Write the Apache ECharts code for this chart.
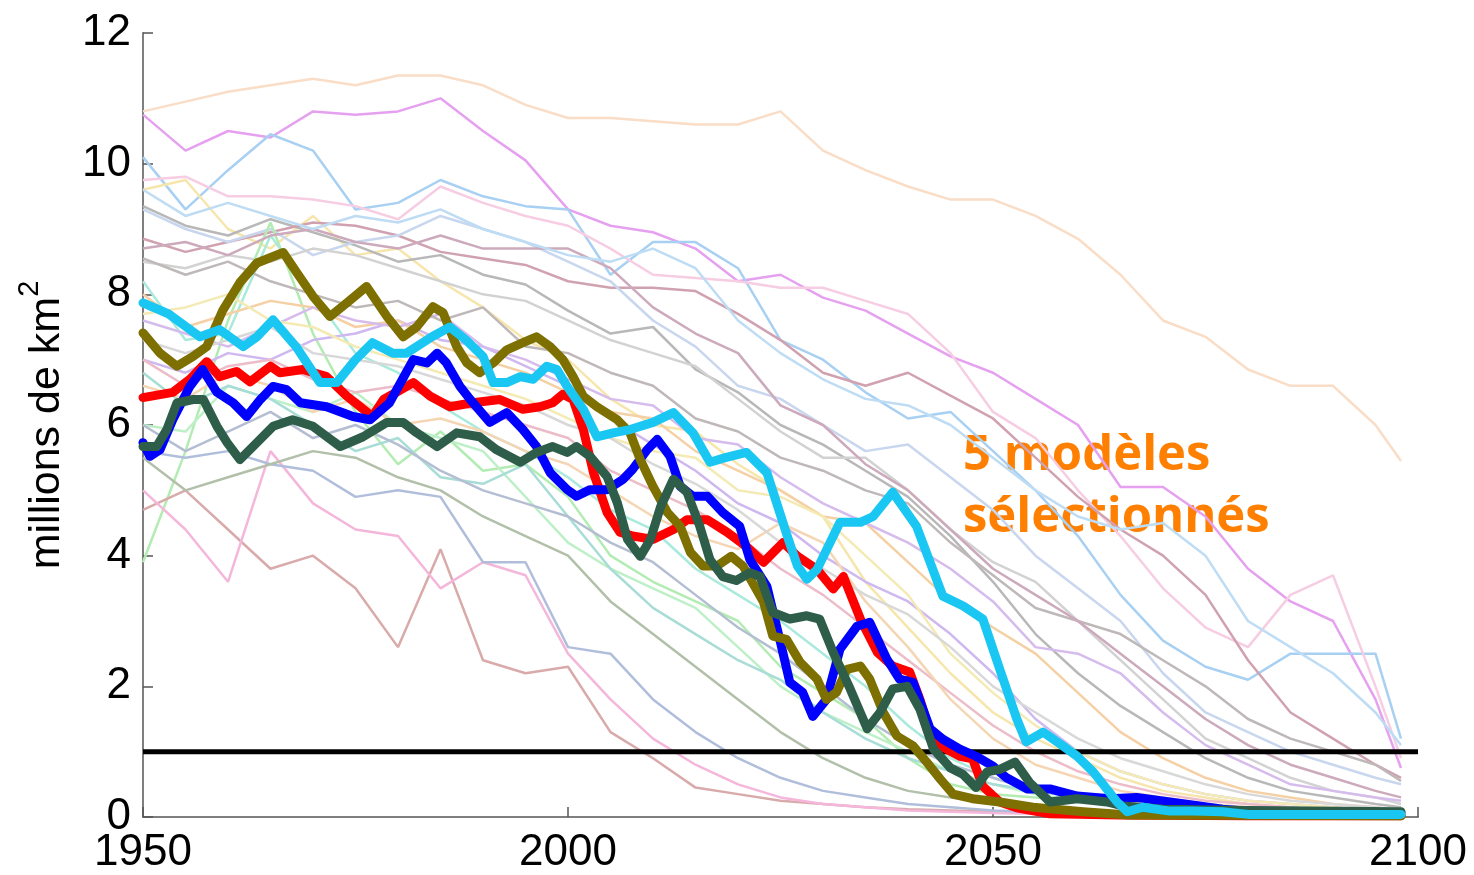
<!DOCTYPE html>
<html><head><meta charset="utf-8">
<script src="https://cdn.jsdelivr.net/npm/echarts@6/dist/echarts.min.js"></script>
<style>html,body{margin:0;padding:0;background:#fff}#c{width:1474px;height:875px}</style>
</head><body><div id="c"></div>
<script>
// ---- axis setup values ----
const X_MIN = 1950, X_MAX = 2100, X_STEP = 50;
const Y_MIN = 0, Y_MAX = 12, Y_STEP = 2;
const Y_NAME = 'millions de km';
const ANNOTATION = ['5 modèles', 'sélectionnés'];
const THRESHOLD = 1;

// ---- faint model runs: sampled every 5 years ----
const FAINT_YEARS = [1950,1955,1960,1965,1970,1975,1980,1985,1990,1995,2000,2005,2010,2015,2020,2025,2030,2035,2040,2045,2050,2055,2060,2065,2070,2075,2080,2085,2090,2095,2098];
const faintPeach    = [10.8,10.95,11.1,11.2,11.3,11.2,11.35,11.35,11.2,10.9,10.7,10.7,10.65,10.6,10.6,10.8,10.2,9.9,9.65,9.45,9.45,9.2,8.85,8.3,7.6,7.35,6.85,6.6,6.6,6.0,5.45];
const faintMagenta  = [10.75,10.2,10.5,10.4,10.8,10.75,10.8,11.0,10.5,10.05,9.3,9.05,8.95,8.7,8.2,8.3,7.95,7.75,7.4,7.05,6.8,6.4,6.0,5.05,5.05,4.6,3.8,3.3,3.0,1.8,0.75];
const faintBlueA    = [10.1,9.3,9.9,10.45,10.2,9.3,9.4,9.75,9.5,9.35,9.3,8.3,8.8,8.8,8.4,7.3,7.0,6.5,6.1,6.2,5.6,5.0,4.3,3.4,2.7,2.3,2.1,2.5,2.5,2.5,1.2];
const faintYellowA  = [9.6,9.75,9.0,8.7,9.2,8.6,8.7,8.2,7.8,7.3,7.0,6.4,6.0,5.9,5.4,5.0,4.6,3.6,2.9,2.2,1.6,1.2,0.9,0.6,0.4,0.3,0.2,0.15,0.1,0.1,0.1];
const faintPinkA    = [9.75,9.8,9.5,9.5,9.45,9.35,9.15,9.65,9.4,9.2,9.05,8.7,8.3,8.25,8.2,8.1,8.1,7.9,7.7,7.1,6.2,5.8,5.0,4.3,3.5,2.9,2.6,3.4,3.7,2.0,0.9];
const faintGrayA    = [9.35,9.05,8.9,9.15,8.95,8.75,8.5,8.6,8.3,8.15,7.75,7.4,7.5,6.85,6.5,6.0,5.7,5.3,4.9,4.3,3.6,2.8,2.2,1.7,1.3,0.9,0.6,0.4,0.3,0.2,0.15];
const faintMauveA   = [8.85,8.65,8.8,8.95,9.1,9.05,8.9,8.65,8.55,8.45,8.2,8.1,8.1,8.05,7.7,7.3,6.8,6.6,6.8,6.45,6.1,5.5,4.9,4.4,4.0,3.4,2.4,1.6,1.2,0.8,0.6];
const faintSteelA   = [9.3,9.0,8.8,9.0,8.6,8.8,8.9,9.2,9.0,8.8,8.5,8.2,7.6,7.2,6.6,6.4,6.0,5.6,5.7,5.2,4.7,4.0,3.5,3.0,2.2,1.6,1.3,1.0,0.8,0.6,0.5];
const faintGrayB    = [8.5,8.4,8.6,8.5,8.7,8.6,8.4,8.2,8.0,7.9,7.6,7.3,7.1,6.9,6.4,5.9,5.5,5.5,5.0,4.4,3.9,3.6,3.0,2.4,1.8,1.2,0.9,0.6,0.4,0.3,0.2];
const faintGreenA   = [3.9,5.6,7.6,9.1,7.4,6.2,5.4,5.9,5.3,5.4,4.9,4.0,3.6,3.3,3.0,2.3,1.9,1.5,0.9,0.5,0.35,0.3,0.25,0.2,0.15,0.1,0.1,0.08,0.08,0.06,0.05];
const faintAqua     = [8.2,7.3,7.4,8.9,8.0,7.1,6.8,6.3,5.9,5.6,5.2,4.7,4.4,3.8,3.4,3.0,2.5,2.0,1.4,0.9,0.6,0.4,0.3,0.2,0.15,0.1,0.1,0.1,0.08,0.06,0.05];
const faintLavender = [7.0,6.8,7.1,7.0,7.3,7.4,7.6,7.3,7.2,6.9,6.6,6.1,5.7,5.3,4.8,4.5,4.0,3.6,3.3,2.8,2.2,1.5,1.0,0.7,0.5,0.35,0.25,0.2,0.15,0.1,0.1];
const faintOrange   = [8.0,7.5,7.7,7.9,7.8,7.5,7.6,7.2,7.0,6.8,6.5,6.2,6.1,5.6,5.3,5.0,4.6,4.5,3.9,3.3,2.9,2.5,1.9,1.3,0.9,0.6,0.4,0.3,0.2,0.15,0.1];
const faintRose     = [4.7,5.0,4.4,3.8,4.0,3.5,2.6,4.1,2.4,2.2,2.3,1.3,0.9,0.45,0.35,0.25,0.2,0.15,0.12,0.1,0.08,0.06,0.05,0.05,0.04,0.04,0.04,0.03,0.03,0.03,0.03];
const faintPinkB    = [5.0,4.4,3.6,5.6,4.8,4.4,4.3,3.5,3.9,3.7,2.5,1.8,1.2,0.8,0.5,0.3,0.2,0.15,0.1,0.08,0.06,0.05,0.05,0.04,0.04,0.03,0.03,0.03,0.03,0.03,0.03];
const faintSteelB   = [5.6,5.5,5.6,5.4,5.3,4.9,5.0,4.9,3.9,3.9,2.6,2.5,1.8,1.3,0.9,0.6,0.4,0.3,0.2,0.15,0.1,0.08,0.06,0.05,0.05,0.04,0.04,0.04,0.04,0.04,0.04];
const faintGrayGreen= [5.5,5.0,5.2,5.4,5.6,5.5,5.2,5.0,4.6,4.3,4.0,3.3,2.8,2.3,1.8,1.3,0.9,0.6,0.4,0.3,0.2,0.15,0.1,0.08,0.06,0.05,0.05,0.05,0.05,0.05,0.05];
const faintGreenB   = [6.0,5.9,6.6,6.4,6.2,6.5,6.0,5.8,5.6,4.9,4.2,3.8,3.5,3.2,2.6,2.0,1.6,1.3,1.0,0.7,0.5,0.35,0.25,0.2,0.15,0.1,0.1,0.08,0.06,0.05,0.05];
const faintTeal     = [6.8,6.3,6.6,6.4,6.0,5.6,5.8,5.2,5.1,5.4,4.6,3.8,3.2,2.8,2.4,2.1,1.6,1.2,0.9,0.7,0.5,0.4,0.3,0.25,0.2,0.15,0.1,0.1,0.08,0.06,0.05];
const faintPinkRose = [7.0,6.6,6.9,7.0,6.7,6.5,6.6,6.4,6.2,6.0,5.8,5.3,5.0,4.7,4.3,3.8,3.4,2.9,2.4,1.9,1.4,1.0,0.7,0.5,0.35,0.25,0.2,0.15,0.1,0.1,0.1];
const faintPurple   = [7.6,7.4,7.2,7.5,7.8,7.6,7.5,7.7,7.2,7.0,6.7,6.4,6.3,5.8,5.7,5.2,4.8,4.5,4.2,3.8,3.3,2.6,2.5,2.2,1.6,1.1,0.8,0.5,0.4,0.3,0.25];
const faintGrayC    = [8.55,8.3,8.5,8.2,8.0,7.8,7.9,7.6,7.8,7.2,7.1,6.8,6.6,6.1,5.9,5.5,5.3,5.0,4.8,4.2,3.7,3.2,3.0,2.8,2.4,2.0,1.5,1.2,1.0,0.8,0.55];
const faintMauveB   = [8.7,8.8,8.6,8.9,9.0,8.8,8.7,8.9,8.7,8.7,8.7,8.4,7.8,7.4,7.1,6.3,6.0,5.4,5.0,4.4,3.8,3.4,3.0,2.5,2.0,1.5,1.1,0.8,0.6,0.4,0.3];
const faintBlueB    = [9.6,9.2,9.4,9.2,9.0,9.2,9.1,9.3,9.0,8.8,8.6,8.5,8.7,8.4,7.6,7.1,6.7,6.4,6.3,6.0,5.5,5.0,4.6,4.4,4.5,4.0,3.0,2.6,2.2,1.6,1.1];
const faintYellowB  = [7.7,7.8,8.0,7.6,7.5,7.2,7.0,6.8,6.6,6.4,6.1,5.8,5.6,5.5,5.0,4.9,4.6,4.0,3.4,2.5,1.9,1.4,1.0,0.7,0.5,0.35,0.25,0.2,0.15,0.1,0.1];
const faintApricot  = [6.6,6.4,6.8,6.6,6.2,6.4,6.0,6.1,5.9,5.6,5.4,5.0,4.6,4.3,4.1,4.5,4.2,3.3,2.6,1.8,1.2,0.8,0.6,0.4,0.3,0.2,0.15,0.1,0.1,0.1,0.1];
const faintSlate    = [6.0,5.6,5.9,6.2,5.8,6.0,5.7,5.3,5.0,4.8,4.6,4.2,3.9,3.4,2.9,2.5,2.0,1.5,1.1,0.8,0.6,0.4,0.3,0.25,0.2,0.15,0.1,0.1,0.08,0.08,0.06];
const faintGrayD    = [7.3,7.1,7.3,7.5,7.1,7.0,6.9,6.7,6.5,6.3,6.0,5.8,5.4,5.1,4.7,4.2,3.8,3.4,3.1,2.6,2.0,1.6,1.2,0.9,0.7,0.5,0.35,0.25,0.2,0.15,0.1];

// ---- five selected models: [year, value] ----
const redModel = [[1950,6.42],[1953.5,6.5],[1955.5,6.7],[1957.5,6.97],[1959,6.74],[1961,6.82],[1962.6,6.66],[1965,6.9],[1966.1,6.8],[1968.8,6.85],[1971.6,6.74],[1974,6.44],[1977,6.13],[1978.3,6.39],[1981.8,6.65],[1983.8,6.44],[1986.1,6.28],[1988.8,6.34],[1992,6.39],[1994.7,6.24],[1996.7,6.28],[1998.2,6.34],[1999.4,6.47],[2000.6,6.39],[2001.8,5.93],[2003,5.27],[2004.6,4.66],[2006.1,4.36],[2007.6,4.3],[2010,4.25],[2012.4,4.4],[2014,4.55],[2016.4,4.55],[2018.7,4.36],[2021,4.14],[2023,3.9],[2025.3,4.2],[2027,3.99],[2029.3,3.79],[2031.2,3.49],[2032.4,3.68],[2034.4,3.03],[2036.4,2.52],[2038.2,2.31],[2040.2,2.22],[2041.4,1.8],[2042.6,1.3],[2043.8,1.09],[2046.1,0.93],[2047.6,0.89],[2048.8,0.47],[2050.8,0.23],[2052.8,0.14],[2056.7,0.05],[2065,0.03],[2080,0.02],[2098,0.02]];
const blueModel = [[1950,5.73],[1950.8,5.52],[1952,5.62],[1953.5,6.08],[1955.5,6.59],[1957,6.85],[1958.7,6.5],[1960.6,6.34],[1962.2,6.13],[1963.8,6.39],[1965.3,6.59],[1966.9,6.54],[1968.5,6.34],[1971.6,6.28],[1974.7,6.13],[1976.7,6.08],[1979,6.34],[1981.8,7.0],[1983.4,6.95],[1984.6,7.1],[1985.7,6.95],[1987.3,6.59],[1988.5,6.39],[1990.8,6.04],[1992.8,6.19],[1994.7,5.93],[1996.3,5.67],[1997.9,5.27],[1999.9,5.01],[2001,4.91],[2002.6,5.01],[2004.6,5.01],[2006.5,5.17],[2007.6,5.32],[2009.3,5.62],[2010.5,5.78],[2012,5.52],[2013.2,5.06],[2014.7,4.91],[2016.4,4.91],[2018.2,4.66],[2020.2,4.45],[2021.4,3.94],[2023.4,3.53],[2025,2.67],[2026.1,2.06],[2027.6,1.91],[2028.8,1.54],[2030.4,1.8],[2032,2.57],[2034,2.92],[2035.5,2.98],[2037.5,2.42],[2039,2.11],[2040.6,2.06],[2042.6,1.35],[2044.1,1.19],[2046.1,1.04],[2048,0.93],[2050,0.78],[2051.6,0.6],[2054,0.43],[2056.7,0.43],[2059.9,0.32],[2063.8,0.28],[2066.9,0.3],[2070.8,0.23],[2074.3,0.17],[2077,0.12],[2080,0.09],[2090,0.07],[2098,0.06]];
const oliveModel = [[1950,7.41],[1952,7.1],[1954,6.9],[1955.9,7.05],[1957.5,7.2],[1959.4,7.76],[1961.4,8.18],[1963.4,8.48],[1966.5,8.64],[1968.1,8.33],[1970,7.97],[1972,7.66],[1974,7.87],[1976.3,8.12],[1978.7,7.66],[1980.6,7.35],[1982.2,7.5],[1984.1,7.81],[1985.3,7.72],[1986.9,7.2],[1988.1,6.95],[1989.6,6.8],[1991.2,6.95],[1992.8,7.15],[1994.7,7.26],[1996.3,7.35],[1997.9,7.2],[1999.4,7.0],[2000.6,6.74],[2001.8,6.44],[2003.4,6.28],[2005.8,6.08],[2007.3,5.88],[2008.5,5.47],[2010,5.06],[2011.7,4.66],[2013.2,4.45],[2014.4,4.05],[2015.9,3.84],[2017.5,3.84],[2019.2,3.99],[2020.6,3.84],[2023,3.29],[2024.1,2.77],[2025.7,2.72],[2027.3,2.37],[2029.3,2.11],[2030.4,1.8],[2031.6,1.91],[2032.8,2.26],[2034.4,2.31],[2035.5,2.11],[2037.1,1.6],[2038.7,1.24],[2040.6,1.09],[2042.2,0.84],[2043.8,0.58],[2045.3,0.35],[2047.6,0.28],[2050.8,0.23],[2054.7,0.15],[2060.6,0.08],[2066,0.03],[2098,0.02]];
const greenModel = [[1950,5.67],[1951.6,5.67],[1952.8,5.93],[1954,6.34],[1955.9,6.39],[1957.1,6.39],[1958.7,5.98],[1959.9,5.73],[1961.4,5.47],[1963.4,5.73],[1965.3,5.98],[1967.6,6.08],[1970,5.98],[1973.2,5.67],[1975.9,5.82],[1978.7,6.04],[1980.6,6.04],[1982.2,5.88],[1984.6,5.67],[1986.9,5.88],[1989.6,5.82],[1991.6,5.62],[1994.4,5.43],[1996.3,5.58],[1998.2,5.67],[1999.9,5.58],[2001,5.67],[2002.6,5.52],[2004.6,5.21],[2005.8,4.81],[2007,4.25],[2008.5,3.99],[2009.7,4.25],[2010.9,4.75],[2012.4,5.17],[2014,4.97],[2015.5,4.45],[2016.7,3.94],[2018.2,3.68],[2019.8,3.62],[2021.4,3.74],[2022.6,3.68],[2024.1,3.13],[2026.1,3.03],[2028.1,3.08],[2029.6,3.03],[2031.2,2.52],[2033.2,1.96],[2035.2,1.35],[2036.7,1.6],[2038.2,1.96],[2039.9,2.0],[2041.4,1.65],[2043,1.04],[2045,0.75],[2046.5,0.65],[2048,0.45],[2049.3,0.69],[2050.8,0.73],[2052.6,0.84],[2054.3,0.53],[2056.7,0.23],[2059.9,0.28],[2063.4,0.23],[2065.3,0.17],[2070,0.12],[2080,0.1],[2098,0.08]];
const cyanModel = [[1950,7.87],[1953,7.7],[1956.7,7.35],[1959,7.46],[1961.8,7.2],[1963.4,7.35],[1965.3,7.61],[1968,7.2],[1970.8,6.65],[1972.8,6.65],[1975,7.0],[1977,7.26],[1979.4,7.1],[1981,7.1],[1984,7.35],[1986.1,7.5],[1988,7.3],[1990,7.05],[1991.2,6.65],[1992.8,6.65],[1994.4,6.74],[1995.9,6.7],[1997.5,6.9],[1998.7,6.85],[1999.9,6.59],[2001.8,6.24],[2003.4,5.82],[2005.3,5.88],[2007.3,5.93],[2010,6.04],[2012.4,6.19],[2014.7,5.88],[2016.7,5.43],[2018.5,5.5],[2021,5.58],[2023.4,5.27],[2025.8,4.3],[2027,3.84],[2028.1,3.64],[2029.3,3.79],[2032,4.51],[2034.4,4.51],[2035.9,4.6],[2038.2,4.97],[2041,4.45],[2044.1,3.38],[2046.5,3.23],[2048.8,3.03],[2050.8,2.26],[2052.8,1.5],[2053.9,1.15],[2055.9,1.3],[2058.2,1.09],[2059.9,0.93],[2061.8,0.69],[2064.6,0.23],[2065.8,0.08],[2067.6,0.15],[2070.8,0.09],[2073.5,0.09],[2077,0.08],[2080,0.04],[2098,0.04]];

// ---- build chart ----
const faintRuns = [
  [faintPeach,'#f9ddc6'],[faintMagenta,'#e6a0f0'],[faintBlueA,'#a8d0f2'],[faintYellowA,'#f6e6ac'],
  [faintPinkA,'#f6cde2'],[faintGrayA,'#b8b8b8'],[faintMauveA,'#d0a2b0'],[faintSteelA,'#c8d6ee'],
  [faintGrayB,'#d2d2d2'],[faintGreenA,'#b2ecb2'],[faintAqua,'#aaeadc'],[faintLavender,'#cfb8f0'],
  [faintOrange,'#f5d0a4'],[faintRose,'#d8aaaa'],[faintPinkB,'#f4b6da'],[faintSteelB,'#b0bedc'],
  [faintGrayGreen,'#b2c0aa'],[faintGreenB,'#bef0c8'],[faintTeal,'#a8dcd6'],[faintPinkRose,'#ecbcc8'],
  [faintPurple,'#d6bcec'],[faintGrayC,'#bfb8b8'],[faintMauveB,'#ccaabc'],[faintBlueB,'#bedcf4'],
  [faintYellowB,'#f3eab4'],[faintApricot,'#f5d6b4'],[faintSlate,'#b4bed2'],[faintGrayD,'#d8d8d8']
];
const series = [];
faintRuns.forEach(([vals, col]) => {
  series.push({type:'line', data: FAINT_YEARS.map((y,i)=>[y, vals[i]]), symbol:'none', silent:true,
    lineStyle:{color:col, width:2.5}, z:1});
});
series.push({type:'line', data:[[X_MIN,THRESHOLD],[X_MAX,THRESHOLD]], symbol:'none', silent:true,
  lineStyle:{color:'#000', width:5}, z:2});
const bold = [[redModel,'#ff0000'],[blueModel,'#0000ff'],[oliveModel,'#7d6f00'],[greenModel,'#2e5e4a'],[cyanModel,'#1ac6f2']];
bold.forEach(([d,col]) => {
  series.push({type:'line', data:d, symbol:'none', silent:true,
    lineStyle:{color:col, width:9, join:'round', cap:'round'}, z:3});
});

const chart = echarts.init(document.getElementById('c'), null, {renderer:'canvas'});
const labelFont = {color:'#000', fontSize:44, fontFamily:'Liberation Sans, Arial, sans-serif'};
chart.setOption({
  animation:false,
  backgroundColor:'#fff',
  grid:{left:143, right:56, top:33, bottom:57, containLabel:false},
  xAxis:{type:'value', min:X_MIN, max:X_MAX, interval:X_STEP,
    axisLine:{show:true, lineStyle:{color:'#7f7f7f', width:2}},
    axisTick:{show:true, inside:true, length:10, lineStyle:{color:'#555', width:1.5}},
    axisLabel:Object.assign({margin:14, formatter:v=>String(v)}, labelFont),
    splitLine:{show:false}},
  yAxis:{type:'value', min:Y_MIN, max:Y_MAX, interval:Y_STEP,
    name:'{a|' + Y_NAME + '}{b|2}', nameLocation:'middle', nameGap:74, nameRotate:90,
    nameTextStyle:{rich:{
      a:{fontSize:43, fontFamily:'Liberation Sans, Arial, sans-serif', color:'#000', lineHeight:54, verticalAlign:'bottom'},
      b:{fontSize:29, fontFamily:'Liberation Sans, Arial, sans-serif', color:'#000', lineHeight:54, verticalAlign:'top'}}},
    axisLine:{show:true, lineStyle:{color:'#7f7f7f', width:2}},
    axisTick:{show:true, inside:true, length:10, lineStyle:{color:'#555', width:1.5}},
    axisLabel:Object.assign({margin:12}, labelFont),
    splitLine:{show:false}},
  graphic:[
    {type:'text', left:963, top:432, silent:true, style:{text:ANNOTATION[0], fill:'#ff7f00',
      font:'bold 49px "Open Sans", sans-serif'}},
    {type:'text', left:963, top:494, silent:true, style:{text:ANNOTATION[1], fill:'#ff7f00',
      font:'bold 49px "Open Sans", sans-serif'}}
  ],
  series: series
});
</script></body></html>
